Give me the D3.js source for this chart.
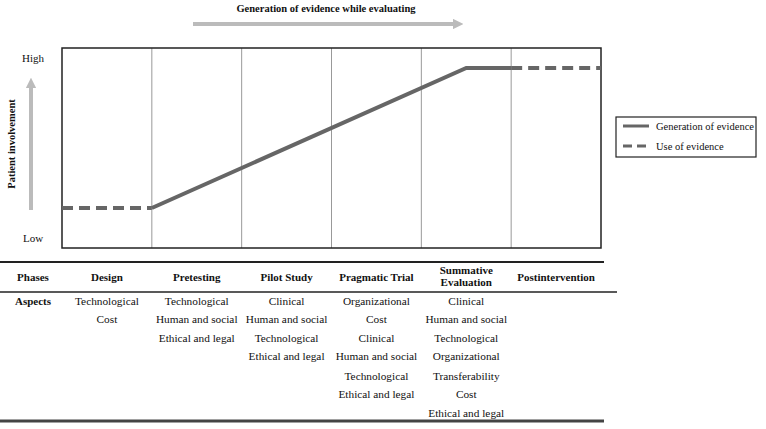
<!DOCTYPE html>
<html><head><meta charset="utf-8">
<script src="https://cdn.jsdelivr.net/npm/d3@7"></script>
<style>body{margin:0;background:#fff}svg{display:block}text{font-family:"Liberation Serif","Times New Roman",serif;fill:#111}</style>
</head><body>
<svg id="c" width="766" height="429"></svg>
<script>
const phases = ["Design","Pretesting","Pilot Study","Pragmatic Trial","Summative\nEvaluation","Postintervention"];
const aspects = [
  ["Technological","Cost"],
  ["Technological","Human and social","Ethical and legal"],
  ["Clinical","Human and social","Technological","Ethical and legal"],
  ["Organizational","Cost","Clinical","Human and social","Technological","Ethical and legal"],
  ["Clinical","Human and social","Technological","Organizational","Transferability","Cost","Ethical and legal"],
  []
];
const generationX = [1, 4.5, 5];
const generationY = [2, 9, 9];
const useBefore = [[0,2],[1,2]];
const useAfter = [[5,9],[6,9]];
const yTicks = [{label:"High", v:9.5},{label:"Low", v:0.5}];
const legendItems = [{label:"Generation of evidence", dash:null},{label:"Use of evidence", dash:"9,5"}];

const svg = d3.select("#c");
const x = d3.scaleLinear().domain([0,6]).range([62,601]);
const y = d3.scaleLinear().domain([0,10]).range([248,48]);
const lineCol = "#666";

const defs = svg.append("defs");
defs.append("marker").attr("id","ah").attr("viewBox","0 0 10 10").attr("refX",2).attr("refY",5)
  .attr("markerWidth",2.6).attr("markerHeight",2.6).attr("orient","auto")
  .append("path").attr("d","M0,0L10,5L0,10Z").attr("fill","#bbb");

svg.append("text").attr("x",326).attr("y",12).attr("text-anchor","middle")
  .attr("font-weight","bold").attr("font-size",10.5).text("Generation of evidence while evaluating");
svg.append("line").attr("x1",193).attr("x2",455).attr("y1",24).attr("y2",24)
  .attr("stroke","#bbb").attr("stroke-width",4).attr("marker-end","url(#ah)");

svg.append("line").attr("x1",31).attr("x2",31).attr("y1",210).attr("y2",86)
  .attr("stroke","#bbb").attr("stroke-width",4).attr("marker-end","url(#ah)");
svg.append("text").attr("transform","translate(15,144) rotate(-90)").attr("text-anchor","middle")
  .attr("font-weight","bold").attr("font-size",10.5).text("Patient involvement");

svg.selectAll(".yl").data(yTicks).join("text").attr("x",33).attr("y",d=>y(d.v)+4)
  .attr("text-anchor","middle").attr("font-size",11).text(d=>d.label);

svg.selectAll(".div").data(d3.range(1,6)).join("line")
  .attr("x1",d=>x(d)).attr("x2",d=>x(d)).attr("y1",y(10)).attr("y2",y(0))
  .attr("stroke","#999").attr("stroke-width",1);
svg.append("rect").attr("x",x(0)).attr("y",y(10)).attr("width",x(6)-x(0)).attr("height",y(0)-y(10))
  .attr("fill","none").attr("stroke","#222").attr("stroke-width",1.5);

const ln = d3.line().x(d=>x(d[0])).y(d=>y(d[1]));
svg.append("path").attr("d",ln(generationX.map((v,i)=>[v,generationY[i]])))
  .attr("fill","none").attr("stroke",lineCol).attr("stroke-width",4).attr("stroke-linejoin","miter");
[useBefore,useAfter].forEach(seg=>{
  svg.append("path").attr("d",ln(seg)).attr("fill","none").attr("stroke",lineCol)
    .attr("stroke-width",4).attr("stroke-dasharray","11,6");
});

const lg = svg.append("g");
lg.append("rect").attr("x",616).attr("y",117).attr("width",140).attr("height",40)
  .attr("fill","#fff").attr("stroke","#222").attr("stroke-width",1.2);
legendItems.forEach((d,i)=>{
  const yy = 126 + i*20;
  lg.append("line").attr("x1",623).attr("x2",649).attr("y1",yy).attr("y2",yy)
    .attr("stroke",lineCol).attr("stroke-width",3).attr("stroke-dasharray",d.dash||null);
  lg.append("text").attr("x",656).attr("y",yy+3.5).attr("font-size",10.5).text(d.label);
});

svg.append("line").attr("x1",0).attr("x2",604).attr("y1",262).attr("y2",262).attr("stroke","#222").attr("stroke-width",2);
svg.append("line").attr("x1",0).attr("x2",617).attr("y1",292).attr("y2",292).attr("stroke","#222").attr("stroke-width",1.5);
svg.append("line").attr("x1",0).attr("x2",604).attr("y1",421).attr("y2",421).attr("stroke","#444").attr("stroke-width",3);

svg.append("text").attr("x",33).attr("y",281).attr("text-anchor","middle").attr("font-weight","bold").attr("font-size",11).text("Phases");
svg.append("text").attr("x",33).attr("y",305).attr("text-anchor","middle").attr("font-weight","bold").attr("font-size",11).text("Aspects");

phases.forEach((p,i)=>{
  const lines = p.split("\n");
  const t = svg.append("text").attr("x",x(i+0.5)).attr("text-anchor","middle").attr("font-weight","bold").attr("font-size",11);
  lines.forEach((s,j)=>{
    t.append("tspan").attr("x",x(i+0.5)).attr("y", lines.length===1 ? 281 : 274 + j*12).text(s);
  });
});
const rowY = [305,323,342,360,380,398,417];
aspects.forEach((arr,i)=>{
  arr.forEach((s,j)=>{
    svg.append("text").attr("x",x(i+0.5)).attr("y",rowY[j]).attr("text-anchor","middle").attr("font-size",11.3).text(s);
  });
});
</script>
</body></html>
